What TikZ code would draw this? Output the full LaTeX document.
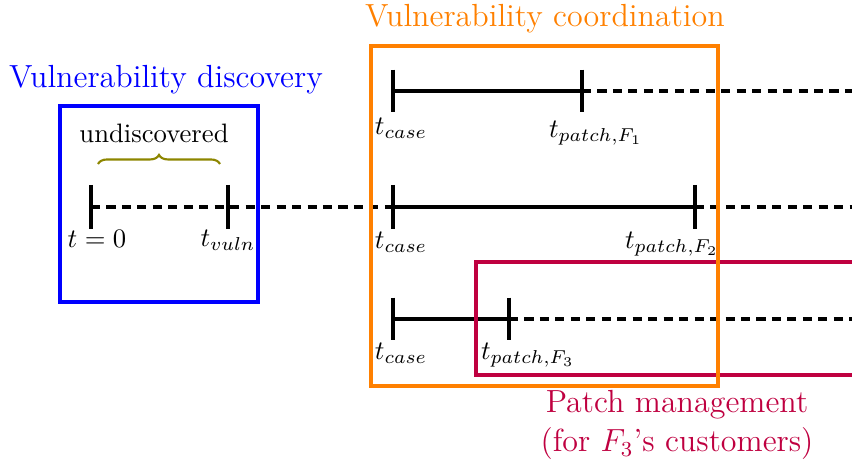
\documentclass[tikz,border=0pt]{standalone}
\usetikzlibrary{decorations.pathreplacing}
\begin{document}
\begin{tikzpicture}[x=0.375pt,y=-0.375pt,
  solidline/.style={line width=1.2pt},
  dashline/.style={line width=1.2pt, dash pattern=on 3.4pt off 2.4pt},
  tickmark/.style={line width=1.2pt},
  lbl/.style={anchor=north, inner sep=0pt},
  ttl/.style={font=\fontsize{12}{14.5}\selectfont, inner sep=0pt, align=center},
  framebox/.style={line width=1.3pt}]
\useasboundingbox (0,0) rectangle (852,461);

% coordinates of timeline points
\coordinate (r2a) at (91,207);
\coordinate (r2b) at (228,207);
\coordinate (r2c) at (393,207);
\coordinate (r2d) at (695,207);
\coordinate (r2e) at (852,207);
\coordinate (r1a) at (393,91);
\coordinate (r1b) at (582,91);
\coordinate (r1e) at (852,91);
\coordinate (r3a) at (393,319);
\coordinate (r3b) at (509,319);
\coordinate (r3e) at (852,319);

% row 1
\draw[solidline] (r1a) -- (r1b);
\draw[dashline] (r1b) -- (r1e);
\foreach \p in {r1a,r1b} \draw[tickmark] ([yshift=8pt]\p) -- ([yshift=-8pt]\p);
% row 2
\draw[dashline] (r2a) -- (r2c);
\draw[solidline] (r2c) -- (r2d);
\draw[dashline] (r2d) -- (r2e);
\foreach \p in {r2a,r2b,r2c,r2d} \draw[tickmark] ([yshift=8.3pt]\p) -- ([yshift=-8.3pt]\p);
% row 3
\draw[solidline] (r3a) -- (r3b);
\draw[dashline] (r3b) -- (r3e);
\foreach \p in {r3a,r3b} \draw[tickmark] ([yshift=8pt]\p) -- ([yshift=-8pt]\p);

% labels
\node[lbl] (l0) at (97,230) {$t=0$};
\node[lbl] (lv) at (228,230) {$t_{vuln}$};
\node[lbl] (lc1) at (401,118) {$t_{case}$};
\node[lbl] (lp1) at (596,121) {$t_{patch,F_1}$};
\node[lbl] (lc2) at (401,232) {$t_{case}$};
\node[lbl] (lp2) at (672,232) {$t_{patch,F_2}$};
\node[lbl] (lc3) at (401,343) {$t_{case}$};
\node[lbl] (lp3) at (528,343) {$t_{patch,F_3}$};

% brace
\coordinate (bl) at (98,164);
\coordinate (br) at (220,164);
\draw[olive, line width=0.8pt, decorate, decoration={brace, amplitude=3.4pt}] (bl) -- (br);
\node[inner sep=0pt] (und) at (154,133) {undiscovered};

% boxes
\draw[framebox, purple] (860,262) -- (476,262) -- (476,375) -- (860,375);
\draw[framebox, blue] (60,106) rectangle (258,302);
\draw[framebox, orange] (371,46) rectangle (718,386);

% titles
\node[ttl, text=blue] (tdisc) at (166,80) {Vulnerability discovery};
\node[ttl, text=orange] (tcoord) at (545,19) {Vulnerability coordination};
\node[ttl, text=purple] (tpatch) at (677,425) {Patch management\\(for $F_3$'s customers)};
\end{tikzpicture}
\end{document}
